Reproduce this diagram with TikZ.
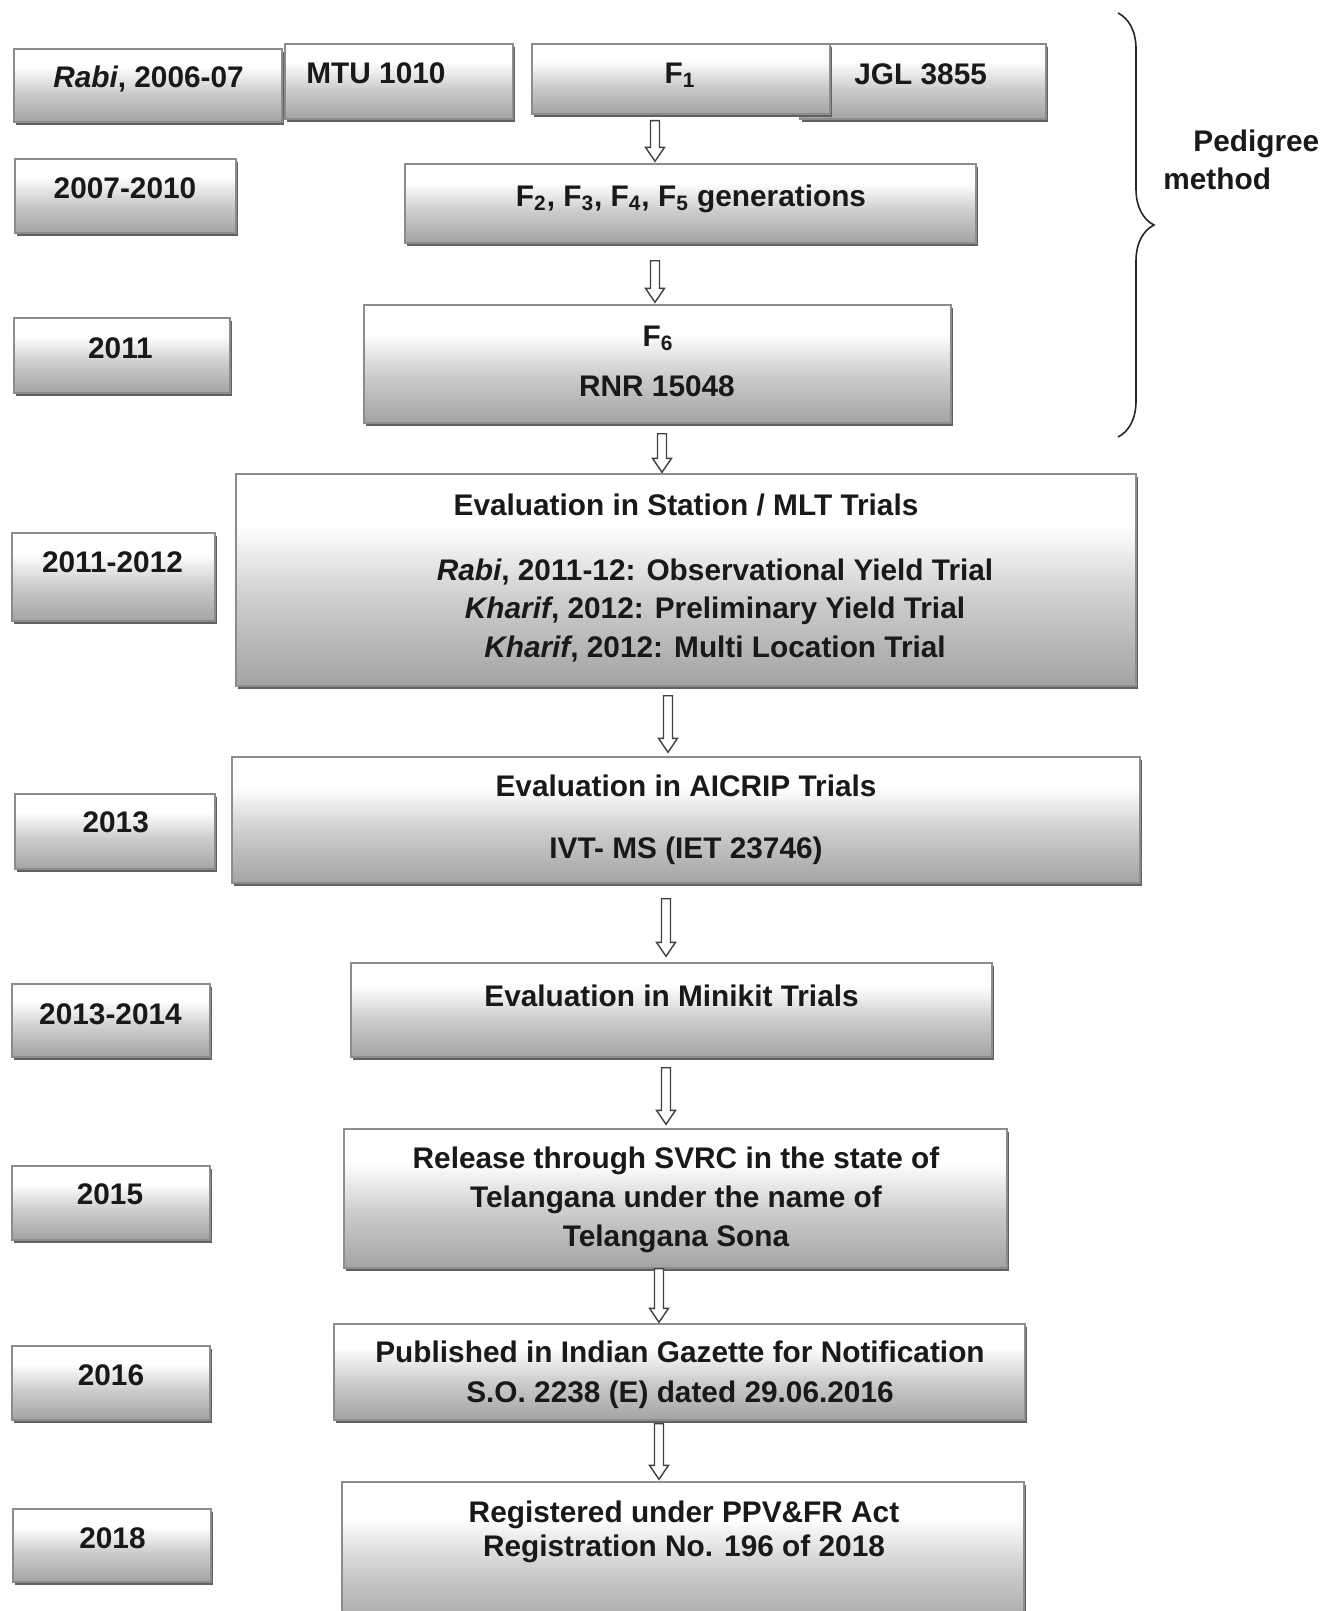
\documentclass[tikz,border=0pt]{standalone}
\usepackage{fontspec}
\setmainfont{Liberation Sans}
\usetikzlibrary{calc,fit,shadows,decorations.pathreplacing}

\pgfdeclareverticalshading{boxshade}{100bp}{color(0bp)=(black!36); color(25bp)=(black!36); color(45bp)=(black!20); color(63bp)=(white); color(100bp)=(white)}

\tikzset{
  box/.style={draw=black!45, line width=0.7pt, shade, shading=boxshade, inner sep=0pt,
    drop shadow={shadow xshift=0.8pt, shadow yshift=-1.5pt, fill=black!62, opacity=1}},
  txt/.style={font=\bfseries\fontsize{14.9}{19.5}\selectfont, text=black!90, align=center, inner sep=0pt, anchor=mid},
  arr/.style={draw=black!75, line width=0.7pt, fill=white, line join=miter}
}

% hollow down arrow: x, upper node, gap, lower node, gap
\newcommand{\hollowdown}[5]{%
  \path (#2.south -| #1,0) ++(0,#3) coordinate (as) (#4.north -| #1,0) ++(0,-#5) coordinate (ae);
  \draw[arr] ($(as)+(-4.5,0)$) -- ($(ae)+(-4.5,-14)$) -- ($(ae)+(-9.5,-14)$) -- (ae)
    -- ($(ae)+(9.5,-14)$) -- ($(ae)+(4.5,-14)$) -- ($(as)+(4.5,0)$) -- cycle;}

\begin{document}
\begin{tikzpicture}[x=0.5pt,y=-0.5pt]
\useasboundingbox (0,0) rectangle (1321,1611);
\clip (0,0) rectangle (1321,1611);

% top row: cross
\node[box, fit={(14,49) (282,122)}] (rabi) {};
\node[box, fit={(285,44) (513,119)}] (mtu) {};
\node[box, fit={(800,44) (1046,119)}] (jgl) {};
\node[box, fit={(532,44) (830,114)}] (fone) {};
\node[txt] (rabi-t) at (148.5,82) {\textit{Rabi}, 2006-07};
\node[txt, anchor=mid west] (mtu-t) at (306,78.5) {MTU 1010};
\node[txt] (fone-t) at (680,78) {F\textsubscript{1}};
\node[txt, anchor=mid west] (jgl-t) at (854,79) {JGL 3855};

% years
\node[box, fit={(15,159) (236,233)}] (t2) {};
\node[box, fit={(14,318) (230,393)}] (t3) {};
\node[box, fit={(12,533) (215,621)}] (t4) {};
\node[box, fit={(15,794) (215,869)}] (t5) {};
\node[box, fit={(12,984) (210,1057)}] (t6) {};
\node[box, fit={(12,1166) (210,1240)}] (t7) {};
\node[box, fit={(12,1346) (210,1420)}] (t8) {};
\node[box, fit={(13,1509) (211,1582)}] (t9) {};
\node[txt] (t2-t) at (125,193.5) {2007-2010};
\node[txt] (t3-t) at (120.5,353.5) {2011};
\node[txt] (t4-t) at (112.5,567) {2011-2012};
\node[txt] (t5-t) at (115.7,827) {2013};
\node[txt] (t6-t) at (110.5,1019.5) {2013-2014};
\node[txt] (t7-t) at (110,1199.5) {2015};
\node[txt] (t8-t) at (111,1380) {2016};
\node[txt] (t9-t) at (112.5,1543) {2018};

% stages
\node[box, fit={(405,164) (976,243)}] (gen) {};
\node[box, fit={(364,305) (951,423)}] (fsix) {};
\node[box, fit={(236,474) (1136,686)}] (stn) {};
\node[box, fit={(232,757) (1140,883)}] (aic) {};
\node[box, fit={(351,963) (992,1057)}] (mini) {};
\node[box, fit={(344,1129) (1007,1268)}] (rel) {};
\node[box, fit={(334,1324) (1025,1420)}] (pub) {};
\node[box, fit={(342,1482) (1024,1630)}] (reg) {};

\node[txt] (gen-t) at (691,201) {F\textsubscript{2}, F\textsubscript{3}, F\textsubscript{4}, F\textsubscript{5} generations};
\node[txt] (fsix-t) at (658,341) {F\textsubscript{6}};
\node[txt] (rnr-t) at (657,391) {RNR 15048};
\node[txt] (stn-t) at (686,510) {Evaluation in Station / MLT Trials};
\node[txt, anchor=center, font=\bfseries\fontsize{14.9}{19.25}\selectfont] (stn-l) at (715,610.5) {\textit{Rabi}, 2011-12: Observational Yield Trial\\\textit{Kharif}, 2012: Preliminary Yield Trial\\\textit{Kharif}, 2012: Multi Location Trial};
\node[txt] (aic-t) at (686,791.5) {Evaluation in AICRIP Trials};
\node[txt] (aic-l) at (686,853) {IVT- MS (IET 23746)};
\node[txt] (mini-t) at (671.5,1001.5) {Evaluation in Minikit Trials};
\node[txt, anchor=center] (rel-t) at (676,1200) {Release through SVRC in the state of\\Telangana under the name of\\Telangana Sona};
\node[txt, anchor=center, font=\bfseries\fontsize{14.9}{19.75}\selectfont] (pub-t) at (680,1375) {Published in Indian Gazette for Notification\\S.O. 2238 (E) dated 29.06.2016};
\node[txt, anchor=center, font=\bfseries\fontsize{14.9}{16.75}\selectfont] (reg-t) at (684,1532) {Registered under PPV\&FR Act\\Registration No. 196 of 2018};

% arrows
\hollowdown{655}{fone}{6}{gen}{2}
\hollowdown{655}{gen}{17}{fsix}{2}
\hollowdown{662}{fsix}{10}{stn}{1}
\hollowdown{668}{stn}{9}{aic}{4}
\hollowdown{666}{aic}{15}{mini}{6}
\hollowdown{666}{mini}{10}{rel}{4}
\hollowdown{659}{rel}{0}{pub}{1}
\hollowdown{659}{pub}{3}{reg}{2}

% pedigree brace
\coordinate (bt) at (1118,13);
\coordinate (bb) at (1118,437);
\draw[decorate, decoration={brace, amplitude=18pt}, line width=0.8pt, black!85] (bt) -- (bb);
\node[txt, align=left, anchor=west, font=\bfseries\fontsize{14.9}{19}\selectfont] (ped) at (1163,160) {\hspace*{15pt}Pedigree\\method};
\end{tikzpicture}
\end{document}
